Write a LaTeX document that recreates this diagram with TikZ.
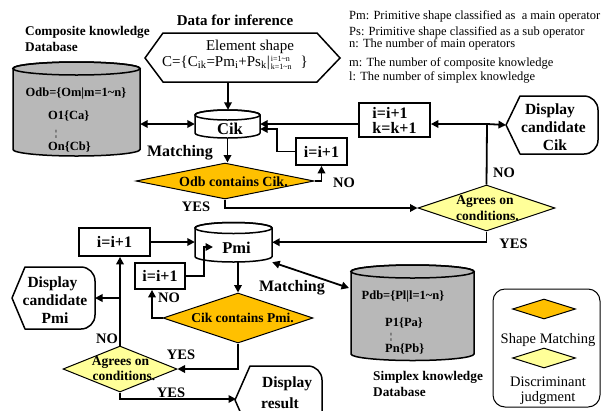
\documentclass[tikz,border=0pt]{standalone}
\usepackage{fontspec}
\setmainfont{Liberation Serif}
\usetikzlibrary{arrows.meta,shapes.geometric}

\definecolor{matchfill}{HTML}{FFC000}
\definecolor{judgefill}{HTML}{FFFF99}
\definecolor{dbfill}{HTML}{B8B8B8}

\newcommand\fsz[2]{\fontsize{#1}{#2}\selectfont}

% database drum: name, centre x, top-ellipse y, bottom-ellipse y, x radius, y radius, fill
\newcommand\dbdrum[7]{%
  \path[draw, line width=1.5pt, fill=#7]
    ({#2-#5},#3) -- ({#2-#5},#4)
    arc[start angle=180, end angle=360, x radius=#5pt, y radius=#6pt]
    -- ({#2+#5},#3)
    arc[start angle=0, end angle=180, x radius=#5pt, y radius=#6pt] -- cycle;
  \draw[line width=1.5pt] (#2,#3) ellipse[x radius=#5pt, y radius=#6pt];
  \node[inner sep=0pt, minimum width={2*#5*1pt}, minimum height={(#4-#3+2*#6)*1pt}]
    (#1) at (#2,{(#3+#4)/2}) {};
}

% display symbol: tip x, corner x, right x, top y, bottom y, corner radius
\newcommand\dispoutline[6]{%
  \draw[line width=1.5pt, line join=round]
    (#1,{(#4+#5)/2}) -- (#2,#4) -- ({#3-#6},#4)
    arc[start angle=90, end angle=0, radius=#6pt]
    -- (#3,{#5-#6})
    arc[start angle=0, end angle=-90, radius=#6pt]
    -- (#2,#5) -- cycle;
}

\begin{document}
\begin{tikzpicture}[x=1pt, y=-1pt,
  ln/.style={line width=1.8pt},
  arr/.style={ln, -{Triangle[length=7.5pt,width=7.5pt]}},
  arrs/.style={ln, {Triangle[length=7.5pt,width=7.5pt]}-{Triangle[length=7.5pt,width=7.5pt]}},
  stepbox/.style={draw, line width=1.8pt, inner sep=0pt, font=\bfseries\fsz{16}{15}, align=left},
  decide/.style={diamond, draw, line width=1pt, inner sep=0pt},
  lab/.style={font=\bfseries\fsz{14.5}{14.5}, anchor=base, inner sep=0pt},
  note/.style={font=\fsz{12.5}{12.5}, anchor=base west, inner sep=0pt},
  dbtext/.style={font=\bfseries\fsz{12.5}{12.5}, inner sep=0pt},
  dots/.style={font=\bfseries\fsz{9}{9}, inner sep=0pt},
  head/.style={font=\bfseries\fsz{13.3}{13.3}, anchor=base west, inner sep=0pt},
  disptext/.style={font=\bfseries\fsz{15.5}{15.5}, anchor=base, inner sep=0pt},
  dtext/.style={font=\bfseries\fsz{13.5}{13.5}, anchor=base, inner sep=0pt},
  keytext/.style={font=\fsz{14.5}{14.5}, anchor=base, inner sep=0pt},
]
\useasboundingbox (0,0) rectangle (607,410);

% ---------- headings and notes
\node[font=\bfseries\fsz{15}{15}, anchor=base, inner sep=0pt] (title) at (235,25) {Data for inference};
\node[head] (odbcap1) at (25,35.5) {Composite knowledge};
\node[head] (odbcap2) at (25,51) {Database};
\node[note] (n1) at (349,19) {Pm: Primitive shape classified as\ \ a main operator};
\node[note] (n2) at (349,35) {Ps: Primitive shape classified as a sub operator};
\node[note] (n3) at (349,47.5) {n: The number of main operators};
\node[note] (n4) at (349,66) {m: The number of composite knowledge};
\node[note] (n5) at (349,80) {l: The number of simplex knowledge};

% ---------- input data
\draw[line width=1.5pt] (145,58) -- (163,33) -- (317,33) -- (340,58) -- (317,82) -- (163,82) -- cycle;
\node[font=\fsz{15}{15}, anchor=base, inner sep=0pt] (elem) at (250,50.5) {Element shape};
\node[font=\fsz{15}{15}, anchor=base west, inner sep=0pt] (formula) at (162,66)
  {C=\{C\textsubscript{ik}=Pm\textsubscript{i}+Ps\textsubscript{k}|\hspace{1pt}\raisebox{-3.5pt}{\fsz{8}{8}\begin{tabular}[b]{@{}l@{}}i=1\textasciitilde n\\k=1\textasciitilde n\end{tabular}}\hspace{9pt}\}};
\coordinate (infout) at (228,82);

% ---------- knowledge databases
\dbdrum{Odb}{76.5}{68.5}{149.5}{63.5}{6.5}{dbfill}
\node[dbtext, anchor=base] (odb1) at (76,96) {Odb=\{Om|m=1\textasciitilde n\}};
\node[dbtext, anchor=base west] (odb2) at (48,119) {O1\{Ca\}};
\node[dots] (odb3) at (56,134.5) {¦};
\node[dbtext, anchor=base west] (odb4) at (48,150) {On\{Cb\}};

\dbdrum{Pdb}{412.5}{271.5}{354}{61.5}{6.5}{dbfill}
\node[dbtext, anchor=base] (pdb1) at (403,299) {Pdb=\{Pl|l=1\textasciitilde n\}};
\node[dbtext, anchor=base west] (pdb2) at (385,326) {P1\{Pa\}};
\node[dots] (pdb3) at (391,337) {¦};
\node[dbtext, anchor=base west] (pdb4) at (385,352) {Pn\{Pb\}};
\node[head] (pdbcap1) at (373,380.5) {Simplex knowledge};
\node[head] (pdbcap2) at (373,396) {Database};

% ---------- candidate stores
\dbdrum{Cik}{227.5}{115}{133}{32.5}{5}{white}
\node[font=\bfseries\fsz{16.5}{16.5}, anchor=base, inner sep=0pt] (ciktext) at (230,134.5) {Cik};
\dbdrum{Pmi}{233.5}{228}{256.5}{38.5}{5.5}{white}
\node[font=\bfseries\fsz{16.5}{16.5}, anchor=base, inner sep=0pt] (pmitext) at (236.5,253) {Pmi};
\coordinate (pmiin) at (213,247);
\coordinate (pdbin) at (349,288);

% ---------- counters
\node[stepbox, minimum width=71pt, minimum height=34pt] (kbox) at (394.5,120) {i=i+1\\k=k+1};
\node[stepbox, minimum width=51pt, minimum height=27pt] (ibox1) at (321.5,151.5) {i=i+1};
\node[stepbox, minimum width=71pt, minimum height=28pt] (ibox2) at (114.5,242) {i=i+1};
\node[stepbox, minimum width=50pt, minimum height=26pt] (ibox3) at (160,276) {i=i+1};

% ---------- decisions
\node[decide, fill=matchfill, minimum width=178pt, minimum height=36pt] (d1) at (225,181) {};
\node[font=\bfseries\fsz{14}{14}, anchor=base, inner sep=0pt] (d1t) at (233.5,186) {Odb contains Cik.};
\node[decide, fill=judgefill, minimum width=137pt, minimum height=46pt] (d2) at (486.5,208) {};
\node[dtext] (d2a) at (485,204) {Agrees on};
\node[dtext] (d2b) at (487.5,220.5) {conditions.};
\node[decide, fill=matchfill, minimum width=150pt, minimum height=50pt] (d3) at (238,318) {};
\node[dtext] (d3t) at (242.5,322.7) {Cik contains Pmi.};
\node[decide, fill=judgefill, minimum width=114pt, minimum height=46pt] (d4) at (120,369) {};
\node[dtext] (d4a) at (120.5,365) {Agrees on};
\node[dtext] (d4b) at (124,380.7) {conditions.};

% ---------- display symbols
\dispoutline{506}{520}{598}{96}{154}{14}
\coordinate (disp1in) at (506,125);
\node[disptext] (disp1a) at (550,114) {Display};
\node[disptext] (disp1b) at (553.5,132) {candidate};
\node[disptext] (disp1c) at (555,150) {Cik};

\dispoutline{12}{25}{95}{267}{329}{14}
\coordinate (disp2in) at (95,298);
\node[disptext] (disp2a) at (52.5,287) {Display};
\node[disptext] (disp2b) at (55,305) {candidate};
\node[disptext] (disp2c) at (55,323) {Pmi};

\dispoutline{235}{250}{322}{366}{434}{14}
\coordinate (disp3in) at (236,399);
\node[disptext, anchor=base west] (disp3a) at (262,387) {Display};
\node[disptext, anchor=base west] (disp3b) at (261,408) {result};

% ---------- connectors
\coordinate (J1) at (487,124);
\draw[arr] (infout) -- (infout |- Cik.north);
\draw[arrs] (Odb.east |- Cik.west) -- (Cik.west);
\draw[arr] (kbox.west |- J1) -- (Cik.east |- J1);
\draw[arr] (ibox1.west) -- ++(-18,0) |- ([yshift=-5pt]Cik.east);
\draw[arr] (Cik.south) -- (Cik.south |- d1.north);
\draw[arr] (d1.east) -| (ibox1.south);
\draw[arr] (d1.south) |- (d2.west);
\draw[ln] (d2.north) -- (J1);
\draw[arr] (J1) -- (kbox.east |- J1);
\draw[arr] (J1) -- (disp1in);
\draw[arr] (d2.south) |- (Pmi.east);
\draw[arr] (ibox2.east) -- (Pmi.west |- ibox2.east);
\draw[arr] (ibox3.east) -- ++(18,0) |- (pmiin);
\draw[arr] (d3.north |- Pmi.south) -- (d3.north);
\draw[arrs] (Pmi.south east) -- (pdbin);
\draw[arr] (d3.west) -| ([xshift=-8pt]ibox3.south);
\draw[arr] (d3.south) |- (d4.east);
\draw[arr] (d4.north) -- (d4.north |- ibox2.south);
\draw[arr] (d4.north |- disp2in) -- (disp2in);
\draw[arr] (d4.south) |- (disp3in);

% ---------- connector labels
\node[font=\bfseries\fsz{16}{16}, anchor=base, inner sep=0pt] (match1) at (180,156) {Matching};
\node[font=\bfseries\fsz{16}{16}, anchor=base, inner sep=0pt] (match2) at (292,291) {Matching};
\node[lab] (no1) at (344,187) {NO};
\node[lab] (no2) at (504,177) {NO};
\node[lab] (no3) at (169,302) {NO};
\node[lab] (no4) at (107,343) {NO};
\node[lab] (yes1) at (196,211) {YES};
\node[lab] (yes2) at (513.5,248) {YES};
\node[lab] (yes3) at (181,359.5) {YES};
\node[lab] (yes4) at (171,397) {YES};

% ---------- key
\node[draw, line width=1pt, rounded corners=12pt, minimum width=107pt, minimum height=118pt] (key) at (546.5,348) {};
\node[decide, fill=matchfill, minimum width=63pt, minimum height=20pt] (keym) at (544,309) {};
\node[keytext] (keymt) at (548,343) {Shape Matching};
\node[decide, fill=judgefill, minimum width=63pt, minimum height=20pt] (keyj) at (544,358) {};
\node[keytext] (keyjt1) at (548,386.5) {Discriminant};
\node[keytext] (keyjt2) at (548,401.5) {judgment};
\end{tikzpicture}
\end{document}
